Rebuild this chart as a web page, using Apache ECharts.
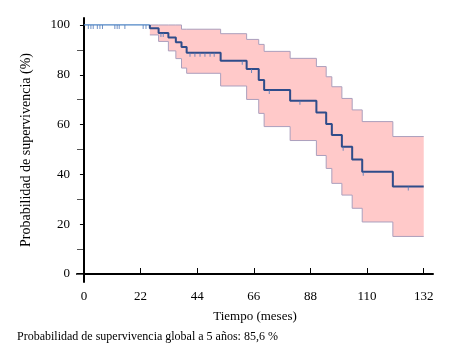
<!DOCTYPE html>
<html>
<head>
<meta charset="utf-8">
<script src="https://cdn.jsdelivr.net/npm/echarts@6/dist/echarts.min.js"></script>
<style>
html, body { margin: 0; padding: 0; background: #fff; }
#chart { width: 453px; height: 357px; }
</style>
</head>
<body>
<div id="chart"></div>
<script>
// tiempos de evento (meses) y valores tras cada evento
var eventTimes = [25.6, 29.0, 32.8, 35.7, 37.9, 39.9, 53.1, 63.2, 67.9, 70.0, 80.1, 90.3, 94.1, 96.3, 100.2, 104.2, 108.1, 120.0];
var survival   = [98.7, 96.8, 95.0, 93.1, 91.2, 88.8, 85.6, 82.3, 77.9, 73.9, 69.6, 64.9, 60.2, 55.8, 51.1, 46.0, 41.1, 35.1];
var upperCI    = [100, 100, 100, 100, 98.3, 98.3, 96.5, 94.2, 92.2, 89.4, 86.6, 83.3, 79.2, 75.2, 70.5, 65.9, 61.2, 55.2];
var lowerCI    = [96.0, 93.4, 89.6, 86.5, 82.7, 80.6, 75.5, 70.1, 64.5, 59.2, 53.6, 47.6, 42.4, 36.4, 31.7, 26.4, 20.9, 15.1];
var endTime = 132;
// casos censurados (meses)
var censorTimes = [1.7, 2.7, 3.6, 5.2, 6.2, 7.2, 12.0, 12.9, 13.7, 15.9, 23.0, 24.1,
  29.9, 30.8, 41.2, 43.1, 45.1, 47.0, 49.0, 50.6, 61.5, 65.1, 72.0, 83.9, 100.7, 108.5, 126.0];
var xTicks = [0, 22, 44, 66, 88, 110, 132];
var yTicks = [0, 20, 40, 60, 80, 100];
var yMinorTicks = [0, 10, 30, 50, 70, 90];

function survAt(t){
  var s = 100;
  eventTimes.forEach(function(e, i){ if (e <= t) s = survival[i]; });
  return s;
}

// curva
var kmFlat = [[0, 100], [eventTimes[0], 100]];
var kmLine = [[eventTimes[0], 100]];
eventTimes.forEach(function(t, i){ kmLine.push([t, survival[i]]); });
kmLine.push([endTime, survival[survival.length - 1]]);

// bordes de la banda IC
var lowData = eventTimes.map(function(t, i){ return [t, lowerCI[i]]; });
lowData.push([endTime, lowerCI[lowerCI.length - 1]]);
var upData = eventTimes.map(function(t, i){ return [t, upperCI[i]]; });
upData.push([endTime, upperCI[upperCI.length - 1]]);

var censorData = censorTimes.map(function(t){ return [t, survAt(t)]; });

// relleno de la banda (poligono escalonado)
function renderBand(params, api){
  var pts = [];
  var n = eventTimes.length;
  for (var i = 0; i < n; i++) {
    var next = i < n - 1 ? eventTimes[i + 1] : endTime;
    pts.push(api.coord([eventTimes[i], upperCI[i]]));
    pts.push(api.coord([next, upperCI[i]]));
  }
  for (var j = n - 1; j >= 0; j--) {
    var nx = j < n - 1 ? eventTimes[j + 1] : endTime;
    pts.push(api.coord([nx, lowerCI[j]]));
    pts.push(api.coord([eventTimes[j], lowerCI[j]]));
  }
  return {
    type: 'polygon',
    shape: { points: pts },
    style: { fill: '#ffc9c9', stroke: 'none' }
  };
}

var font = '"Liberation Serif", "DejaVu Serif", serif';
var chart = echarts.init(document.getElementById('chart'));
chart.setOption({
  animation: false,
  grid: { left: 77, right: 20, top: 18, bottom: 75 },
  xAxis: {
    type: 'value', min: -2.7, max: 135.6,
    name: 'Tiempo (meses)', nameLocation: 'middle', nameGap: 28,
    nameTextStyle: { fontFamily: font, fontSize: 13, color: '#000' },
    axisLine: { lineStyle: { color: '#000', width: 2 } },
    axisTick: { inside: true, length: 6, customValues: xTicks, lineStyle: { color: '#000' } },
    axisLabel: { customValues: xTicks, fontFamily: font, fontSize: 13, color: '#000', margin: 8 },
    splitLine: { show: false }
  },
  yAxis: [{
    type: 'value', min: -3.2, max: 102.8,
    name: 'Probabilidad de supervivencia (%)', nameLocation: 'middle', nameGap: 44,
    nameTextStyle: { fontFamily: font, fontSize: 14, color: '#000' },
    axisLine: { show: true, lineStyle: { color: '#000', width: 2 } },
    axisTick: { length: 4, customValues: yTicks, lineStyle: { color: '#000' } },
    axisLabel: { customValues: yTicks, fontFamily: font, fontSize: 13, color: '#000', margin: 7 },
    splitLine: { show: false }
  }, {
    type: 'value', min: -3.2, max: 102.8, position: 'left',
    axisLine: { show: false },
    axisTick: { show: true, inside: true, length: 6, customValues: yMinorTicks, lineStyle: { color: '#555' } },
    axisLabel: { show: false },
    splitLine: { show: false }
  }],
  graphic: [{
    type: 'text', left: 17, top: 331,
    style: { text: 'Probabilidad de supervivencia global a 5 años: 85,6 %', font: '12px ' + font, fill: '#000' }
  }],
  series: [{
    type: 'custom', renderItem: renderBand, data: [[0, 0]], z: 1, silent: true
  }, {
    type: 'line', data: lowData, step: 'end', symbol: 'none',
    lineStyle: { color: '#ab9fbd', width: 1 }, z: 2
  }, {
    type: 'line', data: upData, step: 'end', symbol: 'none',
    lineStyle: { color: '#ab9fbd', width: 1 }, z: 2
  }, {
    type: 'line', data: kmFlat, symbol: 'none',
    lineStyle: { color: '#4f86c6', width: 1.2 }, z: 3
  }, {
    type: 'line', data: kmLine, step: 'end', symbol: 'none',
    lineStyle: { color: '#2f4c8a', width: 2 }, z: 3
  }, {
    type: 'scatter', data: censorData, symbol: 'rect', symbolSize: [1, 4], symbolOffset: [0, 2],
    itemStyle: { color: '#4f78b8' }, z: 4
  }]
});
</script>
</body>
</html>
